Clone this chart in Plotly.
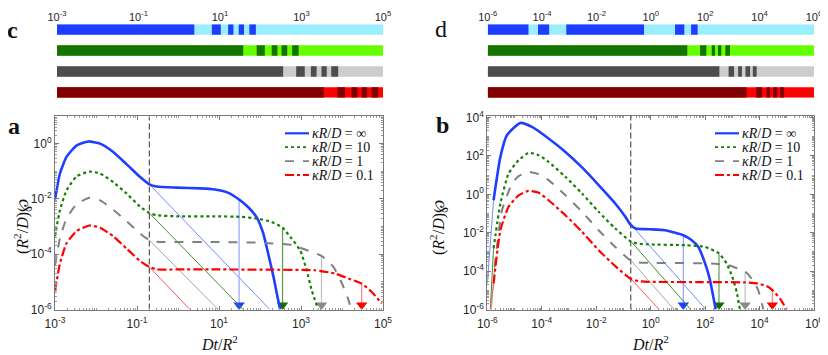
import plotly.graph_objects as go

# all curve values are log10 numbers

# ---- panel a ----
A_BLUE_X = [-3.00, -2.88, -2.72, -2.47, -2.19, -1.90, -1.58, -1.25, -0.93, -0.70, -0.52, -0.03, 0.54, 0.90, 1.23, 1.49, 1.72, 1.92, 2.08, 2.20, 2.33, 2.41, 2.49]
A_BLUE_Y = [-2.02, -1.08, -0.48, -0.06, 0.08, 0.00, -0.30, -0.75, -1.20, -1.47, -1.55, -1.59, -1.62, -1.66, -1.78, -2.02, -2.31, -2.67, -3.25, -3.98, -4.82, -5.42, -6.00]
A_GREEN_X = [-3.00, -2.88, -2.72, -2.47, -2.16, -1.90, -1.58, -1.25, -0.93, -0.70, -0.52, -0.03, 0.90, 1.55, 1.92, 2.28, 2.55, 2.77, 2.98, 3.14, 3.26, 3.42]
A_GREEN_Y = [-3.35, -2.41, -1.69, -1.18, -1.01, -1.08, -1.39, -1.81, -2.27, -2.51, -2.59, -2.63, -2.63, -2.65, -2.71, -2.83, -3.04, -3.43, -3.86, -4.58, -5.30, -6.00]
A_GRAY_X = [-3.00, -2.88, -2.72, -2.47, -2.16, -1.90, -1.58, -1.25, -0.93, -0.70, -0.52, -0.03, 0.90, 2.12, 2.77, 3.10, 3.50, 3.79, 4.00, 4.16, 4.22]
A_GRAY_Y = [-4.40, -3.43, -2.71, -2.19, -1.96, -2.05, -2.39, -2.81, -3.25, -3.49, -3.55, -3.56, -3.56, -3.59, -3.67, -3.83, -4.06, -4.46, -5.06, -5.66, -6.00]
A_RED_X = [-3.00, -2.88, -2.72, -2.47, -2.16, -1.90, -1.58, -1.25, -0.93, -0.70, -0.52, -0.03, 0.90, 2.20, 3.34, 3.83, 4.16, 4.48, 4.72, 4.97]
A_RED_Y = [-5.34, -4.34, -3.61, -3.16, -2.96, -3.04, -3.35, -3.80, -4.24, -4.46, -4.55, -4.55, -4.55, -4.56, -4.58, -4.70, -4.88, -5.06, -5.36, -5.78]

A_CUT = -0.70                              # dashed vertical line
A_TAIL_Y0 = [-1.47, -2.51, -3.49, -4.46]   # thin power-law tails start (at A_CUT)
A_TAIL_X1 = [2.24, 1.59, 0.98, 0.29]       # where they reach the bottom
A_ARROW_X = [1.49, 2.55, 3.50, 4.48]
A_ARROW_Y = [-2.02, -3.04, -4.06, -5.06]

# ---- panel b ----
B_BLUE_X = [-5.77, -5.52, -5.28, -4.79, -4.36, -3.75, -3.13, -2.52, -1.91, -1.30, -0.93, -0.75, -0.56, -0.07, 0.53, 1.20, 1.51, 1.75, 2.00, 2.18, 2.30, 2.39]
B_BLUE_Y = [-0.31, 1.95, 3.08, 3.72, 3.51, 2.91, 2.21, 1.40, 0.48, -0.48, -1.17, -1.57, -1.78, -1.82, -1.87, -2.13, -2.39, -2.74, -3.60, -4.47, -5.34, -6.00]
B_GREEN_X = [-5.77, -5.52, -5.22, -4.85, -4.48, -4.11, -3.75, -3.13, -2.52, -1.91, -1.30, -0.75, -0.50, -0.07, 1.26, 2.00, 2.51, 2.79, 3.00, 3.16, 3.28]
B_GREEN_Y = [-2.82, -0.48, 1.08, 1.78, 2.16, 2.04, 1.69, 0.91, 0.04, -0.91, -1.78, -2.44, -2.56, -2.61, -2.65, -2.74, -3.08, -3.60, -4.30, -5.08, -6.00]
B_GRAY_X = [-5.73, -5.46, -5.09, -4.85, -4.48, -4.11, -3.75, -3.13, -2.52, -1.91, -1.30, -0.75, -0.44, -0.07, 2.24, 2.85, 3.10, 3.47, 3.71, 3.95, 4.14]
B_GRAY_Y = [-3.78, -0.83, 0.56, 0.95, 1.17, 1.05, 0.74, -0.05, -0.91, -1.87, -2.74, -3.43, -3.55, -3.57, -3.60, -3.69, -3.81, -4.02, -4.39, -4.99, -6.00]
B_RED_X = [-5.77, -5.52, -5.22, -4.85, -4.48, -4.11, -3.75, -3.13, -2.52, -1.91, -1.30, -0.75, -0.44, -0.07, 1.70, 3.47, 3.95, 4.32, 4.47, 4.75, 5.00]
B_RED_Y = [-4.65, -1.87, -0.65, -0.05, 0.18, 0.08, -0.31, -1.09, -1.95, -2.91, -3.74, -4.39, -4.52, -4.56, -4.57, -4.59, -4.65, -4.82, -4.99, -5.43, -6.00]

# thin lead-in at the far left of panel b (from the bottom up to the thick curves)
B_LEAD_X0 = [-6.00, -5.89, -5.85, -5.89]
B_LEAD_Y0 = [-4.65, -6.00, -6.00, -6.00]

B_CUT = -0.73
B_TAIL_Y0 = [-1.57, -2.44, -3.43, -4.39]
B_TAIL_X1 = [2.03, 1.47, 0.86, 0.31]
B_ARROW_X = [1.20, 2.51, 3.47, 4.47]
B_ARROW_Y = [-2.13, -3.08, -4.02, -4.99]

# ---- bar strips c and d: dark segments (log10 start, end); light fills the rest ----
C_START = [[-3, 0.80, 1.20, 1.46, 1.72], [-3, 1.90, 2.27, 2.51, 2.77],
           [-3, 2.87, 3.23, 3.49, 3.73], [-3, 3.88, 4.23, 4.48, 4.72]]
C_END = [[0.37, 1.02, 1.33, 1.59, 1.88], [1.57, 2.10, 2.41, 2.65, 2.93],
         [2.55, 3.08, 3.37, 3.62, 3.90], [3.55, 4.07, 4.37, 4.61, 4.88]]
D_START = [[-6, -4.15, -3.11, 0.89, 1.48], [-6, 1.81, 2.24, 2.47, 2.74],
           [-6, 2.86, 3.21, 3.48, 3.75], [-6, 3.87, 4.26, 4.50, 4.75]]
D_END = [[-4.50, -3.74, -0.25, 1.23, 1.72], [1.34, 2.04, 2.36, 2.59, 2.91],
         [2.52, 3.06, 3.35, 3.65, 3.89], [3.52, 4.09, 4.38, 4.65, 4.90]]

LABELS = ["<i>κR</i>/<i>D</i> = ∞", "<i>κR</i>/<i>D</i> = 10",
          "<i>κR</i>/<i>D</i> = 1", "<i>κR</i>/<i>D</i> = 0.1"]

# styles
CURVE_COLORS = ["#1f3fff", "#1a7d0a", "#808080", "#ff0000"]
CURVE_DASH = ["solid", "dot", "dash", "dashdot"]
CURVE_WIDTH = [2.6, 2.2, 2.0, 2.2]
TAIL_COLORS = ["#6f8cff", "#3f8f30", "#a8a8a8", "#ff5a5a"]
ARROW_LINE = ["#8ea6ff", "#5a9e4c", "#c0c0c0", "#ff8080"]
ARROW_HEAD = ["#1f3fff", "#146e00", "#8a8a8a", "#ff0000"]
DARK = ["#1f3dff", "#167300", "#4d4d4d", "#7f0000"]
LIGHT = ["#99eeff", "#66ff00", "#cccccc", "#ff0000"]

# the page body keeps its 8px default margin, so the figure is shifted by that much
PAGE_PAD = 8
W, H = 828 - PAGE_PAD, 355 - PAGE_PAD
SERIF = "Liberation Serif"
SANS = "Liberation Sans"


def p10(v):
    return [10 ** t for t in v]


def px(x):
    return (x - PAGE_PAD) / W


def py(y):
    return 1 - (y - PAGE_PAD) / H


def sup_ticks(lo, hi, step):
    vals = list(range(lo, hi + 1, step))
    return [10 ** v for v in vals], ["10<sup>%d</sup>" % v for v in vals]


def minor_ticks(lo, hi):
    return [m * 10 ** k for k in range(lo, hi) for m in range(1, 10) if m > 1 or (k - lo) % 2 == 1]


def main():
    fig = go.Figure()

    panels = [
        ("x", "y", [(A_BLUE_X, A_BLUE_Y), (A_GREEN_X, A_GREEN_Y), (A_GRAY_X, A_GRAY_Y), (A_RED_X, A_RED_Y)],
         A_CUT, A_TAIL_Y0, A_TAIL_X1, A_ARROW_X, A_ARROW_Y, (-6, 1.0), None),
        ("x2", "y2", [(B_BLUE_X, B_BLUE_Y), (B_GREEN_X, B_GREEN_Y), (B_GRAY_X, B_GRAY_Y), (B_RED_X, B_RED_Y)],
         B_CUT, B_TAIL_Y0, B_TAIL_X1, B_ARROW_X, B_ARROW_Y, (-6, 4.08), (B_LEAD_X0, B_LEAD_Y0)),
    ]
    plot_h = 309.5 - 116

    for xa, ya, curves, cut, ty0, tx1, ax_, ay_, yr, lead in panels:
        head_off = 4.6 / (plot_h / (yr[1] - yr[0]))
        # dashed vertical line
        fig.add_trace(go.Scatter(x=[10 ** cut] * 2, y=[10 ** yr[0], 10 ** yr[1]], mode="lines",
                                 line=dict(color="#333333", width=1, dash="6px,3px"),
                                 xaxis=xa, yaxis=ya, showlegend=False, hoverinfo="skip"))
        for i in range(4):
            # thin power-law continuation
            fig.add_trace(go.Scatter(x=p10([cut, tx1[i]]), y=p10([ty0[i], -6]), mode="lines",
                                     line=dict(color=TAIL_COLORS[i], width=1),
                                     xaxis=xa, yaxis=ya, showlegend=False, hoverinfo="skip"))
            if lead is not None:
                fig.add_trace(go.Scatter(x=p10([lead[0][i], curves[i][0][0]]),
                                         y=p10([lead[1][i], curves[i][1][0]]), mode="lines",
                                         line=dict(color=TAIL_COLORS[i], width=1),
                                         xaxis=xa, yaxis=ya, showlegend=False, hoverinfo="skip"))
            # arrow shaft and head
            fig.add_trace(go.Scatter(x=p10([ax_[i], ax_[i]]), y=p10([ay_[i], -6]), mode="lines",
                                     line=dict(color=ARROW_LINE[i], width=1.2),
                                     xaxis=xa, yaxis=ya, showlegend=False, hoverinfo="skip"))
            fig.add_trace(go.Scatter(x=[10 ** ax_[i]], y=[10 ** (yr[0] + head_off)], mode="markers",
                                     marker=dict(symbol="triangle-down", size=10, color=ARROW_HEAD[i]),
                                     xaxis=xa, yaxis=ya, showlegend=False, hoverinfo="skip"))
        for i in range(4):
            fig.add_trace(go.Scatter(x=p10(curves[i][0]), y=p10(curves[i][1]), mode="lines",
                                     line=dict(color=CURVE_COLORS[i], width=CURVE_WIDTH[i],
                                               dash=CURVE_DASH[i], shape="spline", smoothing=0.5),
                                     xaxis=xa, yaxis=ya, showlegend=False))

    # bar strips
    for xa, ya, starts, ends, lo, hi in [("x3", "y3", C_START, C_END, -3, 5), ("x4", "y4", D_START, D_END, -6, 6)]:
        for r in range(4):
            fig.add_trace(go.Bar(y=[r], base=[10 ** lo], x=[10 ** hi - 10 ** lo], orientation="h",
                                 width=0.5, marker=dict(color=LIGHT[r], line=dict(width=0)),
                                 xaxis=xa, yaxis=ya, showlegend=False, hoverinfo="skip"))
            fig.add_trace(go.Bar(y=[r] * len(starts[r]), base=p10(starts[r]),
                                 x=[10 ** e - 10 ** s for s, e in zip(starts[r], ends[r])],
                                 orientation="h", width=0.5,
                                 marker=dict(color=DARK[r], line=dict(width=0)),
                                 xaxis=xa, yaxis=ya, showlegend=False, hoverinfo="skip"))

    frame = dict(type="log", showline=True, linecolor="#7a7a7a", linewidth=1, mirror="allticks",
                 ticks="inside", ticklen=4, tickcolor="#7a7a7a", showgrid=False, zeroline=False,
                 automargin=False, tickfont=dict(family=SANS, size=12, color="#262626"))

    ax_tv, ax_tt = sup_ticks(-3, 5, 2)
    bx_tv, bx_tt = sup_ticks(-6, 6, 2)
    ay_tv, ay_tt = sup_ticks(-6, 0, 2)
    by_tv, by_tt = sup_ticks(-6, 4, 2)

    def minor(lo, hi):
        return dict(ticks="inside", ticklen=2, tickcolor="#9a9a9a", tickmode="array",
                    tickvals=minor_ticks(lo, hi))

    strip = dict(type="log", side="top", showline=False, showgrid=False, zeroline=False, ticks="",
                 automargin=False, tickmode="array", tickfont=dict(family=SANS, size=11, color="#262626"))

    top_a, bot_a = py(116), py(309.5)
    strip_dom = [py(97.75), py(24.25)]
    fig.update_layout(
        width=W, height=H, margin=dict(l=0, r=0, t=0, b=0, autoexpand=False),
        paper_bgcolor="white", plot_bgcolor="white", barmode="overlay", showlegend=False,
        xaxis=dict(frame, domain=[px(55), px(383)], range=[-3, 5], anchor="y", ticklabelstandoff=3,
                   tickmode="array", tickvals=ax_tv, ticktext=ax_tt, minor=minor(-3, 5)),
        yaxis=dict(frame, domain=[bot_a, top_a], range=[-6, 1.0], anchor="x",
                   tickmode="array", tickvals=ay_tv, ticktext=ay_tt, minor=minor(-6, 1)),
        xaxis2=dict(frame, domain=[px(487.3), px(814)], range=[-6, 6], anchor="y2", ticklabelstandoff=3,
                    tickmode="array", tickvals=bx_tv, ticktext=bx_tt, minor=minor(-6, 6)),
        yaxis2=dict(frame, domain=[bot_a, top_a], range=[-6, 4.08], anchor="x2",
                    tickmode="array", tickvals=by_tv, ticktext=by_tt, minor=minor(-6, 5)),
        xaxis3=dict(strip, domain=[px(57), px(383)], range=[-3, 5], anchor="y3",
                    tickvals=ax_tv, ticktext=ax_tt),
        yaxis3=dict(domain=strip_dom, range=[3.25, -0.25], anchor="x3", visible=False),
        xaxis4=dict(strip, domain=[px(487.7), px(814)], range=[-6, 6], anchor="y4",
                    tickvals=bx_tv, ticktext=bx_tt),
        yaxis4=dict(domain=strip_dom, range=[3.25, -0.25], anchor="x4", visible=False),
    )

    # legend keys: line samples (shapes) and labels, spaced like the original
    shape_dash = ["solid", "dot", "dash", "dashdot"]
    for key_x in (285, 715):
        for i in range(4):
            yy = 133.3 + 13.9 * i
            fig.add_shape(type="line", xref="paper", yref="paper",
                          x0=px(key_x), x1=px(key_x + 24), y0=py(yy), y1=py(yy),
                          line=dict(color=CURVE_COLORS[i], width=CURVE_WIDTH[i] - 0.4, dash=shape_dash[i]))
            fig.add_annotation(text=LABELS[i], x=px(key_x + 25), y=py(yy), xref="paper", yref="paper",
                               showarrow=False, xanchor="left", yanchor="middle",
                               font=dict(family=SERIF, size=14, color="#111111"))

    notes = [
        ("<b>a</b>", 14, 126, 0, 24), ("<b>b</b>", 442, 125, 0, 24),
        ("<b>c</b>", 12, 30, 0, 24), ("d", 441, 29, 0, 24),
        ("<i>Dt</i>/<i>R</i><sup>2</sup>", 219, 343, 0, 16),
        ("<i>Dt</i>/<i>R</i><sup>2</sup>", 650, 343, 0, 16),
        ("(<i>R</i><sup>2</sup>/<i>D</i>)℘", 21, 227, -90, 16),
        ("(<i>R</i><sup>2</sup>/<i>D</i>)℘", 437, 228, -90, 16),
    ]
    for text, x, y, ang, size in notes:
        fig.add_annotation(text=text, x=px(x), y=py(y), xref="paper", yref="paper",
                           showarrow=False, textangle=ang, xanchor="center", yanchor="middle",
                           font=dict(family=SERIF, size=size, color="#111111"))

    fig.write_html("out.html")


if __name__ == "__main__":
    main()
